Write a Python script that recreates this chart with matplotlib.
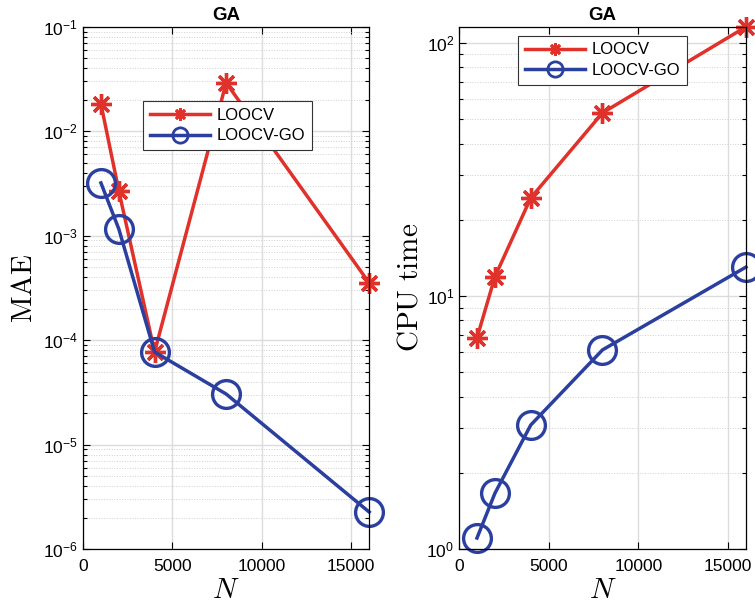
import matplotlib
matplotlib.use("Agg")
import matplotlib.pyplot as plt
from matplotlib.ticker import FixedLocator, FuncFormatter, LogLocator, NullFormatter
import numpy as np

plt.rcParams['font.family'] = ['Liberation Sans', 'DejaVu Sans']
plt.rcParams['mathtext.fontset'] = 'cm'

N = [1000, 2000, 4000, 8000, 16000]
mae_loocv = [1.83e-2, 2.69e-3, 7.7e-5, 2.91e-2, 3.53e-4]
mae_go = [3.2e-3, 1.16e-3, 7.7e-5, 3.05e-5, 2.26e-6]
cpu_loocv = [6.82, 11.9, 24.4, 52.9, 115.7]
cpu_go = [1.105, 1.66, 3.09, 6.12, 13.0]
labels = ['LOOCV', 'LOOCV-GO']
title = 'GA'

red = '#E0312A'
blue = '#2B3F9F'

fig = plt.figure(figsize=(7.55, 6.10), dpi=100)
ax1 = fig.add_axes([0.110, 0.100, 0.379, 0.856])
ax2 = fig.add_axes([0.608, 0.100, 0.380, 0.856])

ast = (8, 2, 0)
LW = 2.5

def style(ax, ylim, yticks):
    ax.set_yscale('log')
    ax.set_xlim(0, 16000)
    ax.set_ylim(*ylim)
    ax.xaxis.set_major_locator(FixedLocator([0, 5000, 10000, 15000]))
    ax.yaxis.set_major_locator(FixedLocator(yticks))
    ax.yaxis.set_minor_locator(LogLocator(base=10, subs=np.arange(2, 10)))
    ax.yaxis.set_minor_formatter(NullFormatter())
    ax.yaxis.set_major_formatter(FuncFormatter(
        lambda v, p: r'$\mathregular{10^{%d}}$' % int(round(np.log10(v)))))
    ax.grid(True, which='major', color='#DCDCDC', linewidth=1.0, linestyle='-')
    ax.grid(True, which='minor', axis='y', color='#D0D0D0', linewidth=0.7, linestyle=':')
    ax.set_axisbelow(True)
    ax.tick_params(which='both', direction='in', top=True, right=True, labelsize=12.5, width=0.8)
    ax.tick_params(axis='x', pad=7)
    ax.tick_params(which='major', length=5)
    ax.tick_params(which='minor', length=3)
    for s in ax.spines.values():
        s.set_linewidth(0.9)
    ax.set_title(title, fontsize=13.5, fontweight='bold', pad=5)
    ax.set_xlabel(r'$N$', fontsize=21, labelpad=2)

def legend(ax, anchor):
    leg = ax.legend(loc='upper left', bbox_to_anchor=anchor, borderaxespad=0,
                    fontsize=12, handlelength=3.6, fancybox=False, framealpha=1,
                    edgecolor='#333333', borderpad=0.4, labelspacing=0.35, handletextpad=0.4)
    leg.get_frame().set_linewidth(0.8)
    hs = leg.legend_handles
    hs[0].set_markersize(9)
    hs[0].set_markeredgewidth(2.0)
    hs[1].set_markersize(11)
    hs[1].set_markeredgewidth(2.0)
    return leg

ax1.plot(N, mae_loocv, color=red, lw=LW, marker=ast, ms=15, mew=2.4, label=labels[0], clip_on=False)
ax1.plot(N, mae_go, color=blue, lw=LW, marker='o', ms=20, mew=2.4, mfc='none', label=labels[1], clip_on=False)
style(ax1, (1e-6, 1e-1), [1e-6, 1e-5, 1e-4, 1e-3, 1e-2, 1e-1])
ax1.set_ylabel(r'$\mathrm{MAE}$', fontsize=21, labelpad=4)
legend(ax1, (0.21, 0.858))

ax2.plot(N, cpu_loocv, color=red, lw=LW, marker=ast, ms=15, mew=2.4, label=labels[0], clip_on=False)
ax2.plot(N, cpu_go, color=blue, lw=LW, marker='o', ms=20, mew=2.4, mfc='none', label=labels[1], clip_on=False)
style(ax2, (1, max(cpu_loocv)), [1, 10, 100])
ax2.set_ylabel(r'$\mathrm{CPU\ time}$', fontsize=21, labelpad=2)
legend(ax2, (0.206, 0.983))

fig.savefig('out.png', dpi=100)
